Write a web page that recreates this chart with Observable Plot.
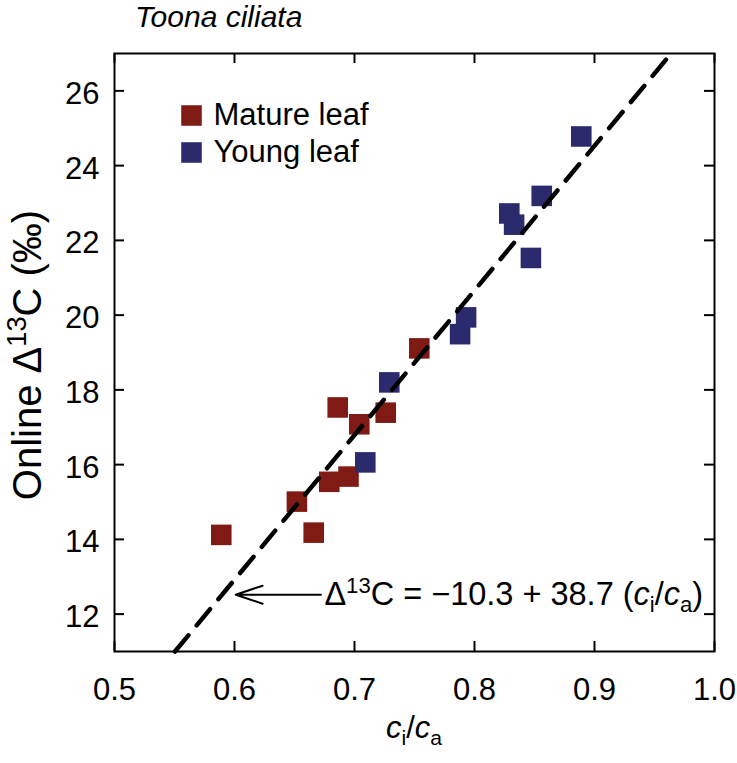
<!DOCTYPE html>
<html><head><meta charset="utf-8">
<script src="https://cdn.jsdelivr.net/npm/d3@7"></script>
<script src="https://cdn.jsdelivr.net/npm/@observablehq/plot@0.6"></script>
<style>
html,body{margin:0;padding:0;background:#fff;}
#chart svg{display:block;}
</style>
</head><body><div id="chart"></div>
<script>
// ---- data ----
const groups = ["Mature leaf", "Young leaf"];
const groupColors = ["#7f1a14", "#2b2a6d"];
const matureCiCa = [0.589, 0.652, 0.666, 0.679, 0.695, 0.686, 0.704, 0.726, 0.754];
const matureD13C = [14.12, 15.01, 14.18, 15.54, 15.68, 17.53, 17.08, 17.39, 19.11];
const youngCiCa  = [0.709, 0.729, 0.788, 0.793, 0.829, 0.833, 0.847, 0.856, 0.889];
const youngD13C  = [16.06, 18.20, 19.49, 19.94, 22.72, 22.42, 21.53, 23.19, 24.78];
const fitIntercept = -10.3;
const fitSlope = 38.7;
const xTicks = [0.5, 0.6, 0.7, 0.8, 0.9, 1.0];
const yTicks = [12, 14, 16, 18, 20, 22, 24, 26];
const xDomain = [0.5, 1.0];
const yDomain = [11, 27];
const arrowAnno = [{x1: 0.672, x2: 0.601, y: 12.52}];
const titleText = "Toona ciliata";

// ---- layout ----
const W = 737, H = 763;
const M = {top: 53, right: 23, bottom: 112, left: 114};
const innerW = W - M.left - M.right;
const innerH = H - M.top - M.bottom;
const tickLen = 10;
const FONT = "'Liberation Sans', Arial, Helvetica, sans-serif";
const FS = 31;

const points = [
  ...matureCiCa.map((x, i) => ({ci: x, d: matureD13C[i], group: groups[0]})),
  ...youngCiCa.map((x, i) => ({ci: x, d: youngD13C[i], group: groups[1]}))
];
const fitLine = yDomain.map(v => ({ci: (v - fitIntercept) / fitSlope, d: v}));
const squareR = 11.6;

const legendMarks = groups.flatMap((g, i) => [
  Plot.dot([g], {frameAnchor: "top-left", dx: 77, dy: 62 + i * 37, symbol: "square", r: squareR, fill: groupColors[i]}),
  Plot.text([g], {frameAnchor: "top-left", dx: 99, dy: 62 + i * 37, text: d => d, textAnchor: "start", lineAnchor: "middle", fontSize: FS, fill: "#000"})
]);

const chart = Plot.plot({
  width: W, height: H,
  marginTop: M.top, marginRight: M.right, marginBottom: M.bottom, marginLeft: M.left,
  x: {domain: xDomain},
  y: {domain: yDomain},
  color: {domain: groups, range: groupColors},
  style: {fontFamily: FONT, fontSize: FS + "px", color: "#000", background: "#fff"},
  marks: [
    Plot.dot(points, {x: "ci", y: "d", fill: "group", symbol: "square", r: squareR}),
    Plot.line(fitLine, {x: "ci", y: "d", stroke: "#000", strokeWidth: 4.5, strokeDasharray: "21,13", strokeLinecap: "round"}),
    Plot.arrow(arrowAnno, {x1: "x1", x2: "x2", y1: "y", y2: "y", stroke: "#000", strokeWidth: 2, headLength: 24, headAngle: 37}),
    Plot.frame({stroke: "#000", strokeWidth: 2}),
    Plot.tickX(xTicks, {x: d => d, insetTop: innerH - tickLen, strokeWidth: 2}),
    Plot.tickX(xTicks, {x: d => d, insetBottom: innerH - tickLen, strokeWidth: 2}),
    Plot.tickY(yTicks, {y: d => d, insetRight: innerW - tickLen, strokeWidth: 2}),
    Plot.tickY(yTicks, {y: d => d, insetLeft: innerW - tickLen, strokeWidth: 2}),
    Plot.axisX({ticks: xTicks, tickSize: 0, tickPadding: 26, fontSize: FS, tickFormat: d3.format(".1f"), label: null}),
    Plot.axisY({ticks: yTicks, tickSize: 0, tickPadding: 15, fontSize: FS, dy: 3, label: null}),
    ...legendMarks
  ]
});
document.getElementById("chart").appendChild(chart);

// ---- rich text labels ----
const svg = d3.select(chart);
const sx = chart.scale("x"), sy = chart.scale("y");
function rich(sel, parts, size) {
  let shift = 0;
  for (const p of parts) {
    const ts = sel.append("tspan").text(p.t);
    const target = p.sup ? -0.38 * size : p.sub ? 0.22 * size : 0;
    if (target !== shift) { ts.attr("dy", target - shift); shift = target; }
    if (p.sup || p.sub) ts.attr("font-size", size * 0.68);
    if (p.it) ts.attr("font-style", "italic");
  }
  return sel;
}
const g = svg.append("g").attr("font-family", FONT).attr("fill", "#000");

// title
g.append("text").attr("x", M.left + 21).attr("y", M.top - 26).attr("text-anchor", "start")
  .attr("font-size", 30).attr("font-style", "italic").text(titleText);

// y label
const YFS = 40;
rich(g.append("text").attr("transform", `translate(41,${M.top + innerH / 2 + 3}) rotate(-90)`)
  .attr("text-anchor", "middle").attr("font-size", YFS),
  [{t: "Online \u0394"}, {t: "13", sup: true}, {t: "C (\u2030)"}], YFS);

// x label
rich(g.append("text").attr("x", M.left + innerW / 2).attr("y", H - 25)
  .attr("text-anchor", "middle").attr("font-size", FS),
  [{t: "c", it: true}, {t: "i", sub: true}, {t: "/"}, {t: "c", it: true}, {t: "a", sub: true}], FS);

// equation
const EFS = 32.5;
rich(g.append("text").attr("x", sx.apply(arrowAnno[0].x1) + 4).attr("y", sy.apply(arrowAnno[0].y) + 11)
  .attr("text-anchor", "start").attr("font-size", EFS),
  [{t: "\u0394"}, {t: "13", sup: true}, {t: "C = \u221210.3 + 38.7 ("}, {t: "c", it: true}, {t: "i", sub: true}, {t: "/"}, {t: "c", it: true}, {t: "a", sub: true}, {t: ")"}], EFS);
</script>
</body></html>
